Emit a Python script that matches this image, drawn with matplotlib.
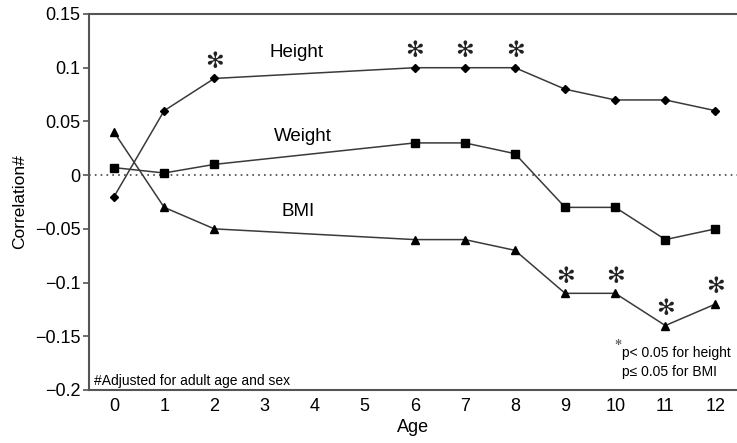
import matplotlib
matplotlib.use("Agg")
import matplotlib.pyplot as plt

ages = [0, 1, 2, 6, 7, 8, 9, 10, 11, 12]
height = [-0.02, 0.06, 0.09, 0.10, 0.10, 0.10, 0.08, 0.07, 0.07, 0.06]
weight = [0.007, 0.002, 0.01, 0.03, 0.03, 0.02, -0.03, -0.03, -0.06, -0.05]
bmi = [0.04, -0.03, -0.05, -0.06, -0.06, -0.07, -0.11, -0.11, -0.14, -0.12]
height_sig = [2, 6, 7, 8]
bmi_sig = [9, 10, 11, 12]
xticks = list(range(0, 13))
yticks = [0.15, 0.1, 0.05, 0, -0.05, -0.1, -0.15, -0.2]
ytick_labels = ["0.15", "0.1", "0.05", "0", "\u22120.05", "\u22120.1", "\u22120.15", "\u22120.2"]

plt.rcParams['font.family'] = ['Liberation Sans', 'DejaVu Sans']

fig = plt.figure(figsize=(7.37, 4.43), dpi=100)
ax = fig.add_axes([89/737, 53/443, 1 - 89/737, (390-14)/443])

lc = '#3a3a3a'
ax.axhline(0, color='#444444', lw=1.2, ls=(0, (1, 2.5)), zorder=1)
ax.plot(ages, height, color=lc, lw=1.1, marker='D', ms=4.5, mfc='black', mec='black', zorder=3)
ax.plot(ages, weight, color=lc, lw=1.1, marker='s', ms=5.5, mfc='black', mec='black', zorder=3)
ax.plot(ages, bmi, color=lc, lw=1.1, marker='^', ms=6, mfc='black', mec='black', zorder=3)

def star(x, y, dy):
    ax.annotate('\u273b', xy=(x, y), xytext=(0, dy), textcoords='offset points',
                ha='center', va='center', fontsize=16, family='DejaVu Sans',
                color='#222222', fontweight='bold')

for a in height_sig:
    star(a, height[ages.index(a)], 12)
for a in bmi_sig:
    star(a, bmi[ages.index(a)], 12)

ax.text(3.65, 0.1146, 'Height', ha='center', va='center', fontsize=13.5)
ax.text(3.77, 0.0364, 'Weight', ha='center', va='center', fontsize=13.5)
ax.text(3.67, -0.034, 'BMI', ha='center', va='center', fontsize=13.5)

ax.text(-0.4, -0.1915, '#Adjusted for adult age and sex', ha='left', va='center', fontsize=10)
ax.text(10.05, -0.1555, '\u273b', ha='center', va='center', fontsize=6, family='DejaVu Sans', color='#444444')
ax.text(10.13, -0.166, 'p< 0.05 for height', ha='left', va='center', fontsize=10)
ax.text(10.13, -0.1835, 'p\u2264 0.05 for BMI', ha='left', va='center', fontsize=10)

ax.set_xlim(-0.5, 12.43)
ax.set_ylim(-0.2, 0.15)
ax.set_xticks(xticks)
ax.set_xticklabels([str(t) for t in xticks], fontsize=13)
ax.set_yticks(yticks)
ax.set_yticklabels(ytick_labels, fontsize=13)
ax.tick_params(axis='x', length=0, pad=6)
ax.tick_params(axis='y', length=4, width=1.2, color='#555555', pad=2)
ax.set_xlabel('Age', fontsize=13, labelpad=3)
ax.set_ylabel('Correlation#', fontsize=12.5, labelpad=6)

for s in ['top', 'bottom', 'left']:
    ax.spines[s].set_color('#555555')
    ax.spines[s].set_linewidth(1.5)
ax.spines['right'].set_visible(False)

fig.savefig('out.png', dpi=100)
